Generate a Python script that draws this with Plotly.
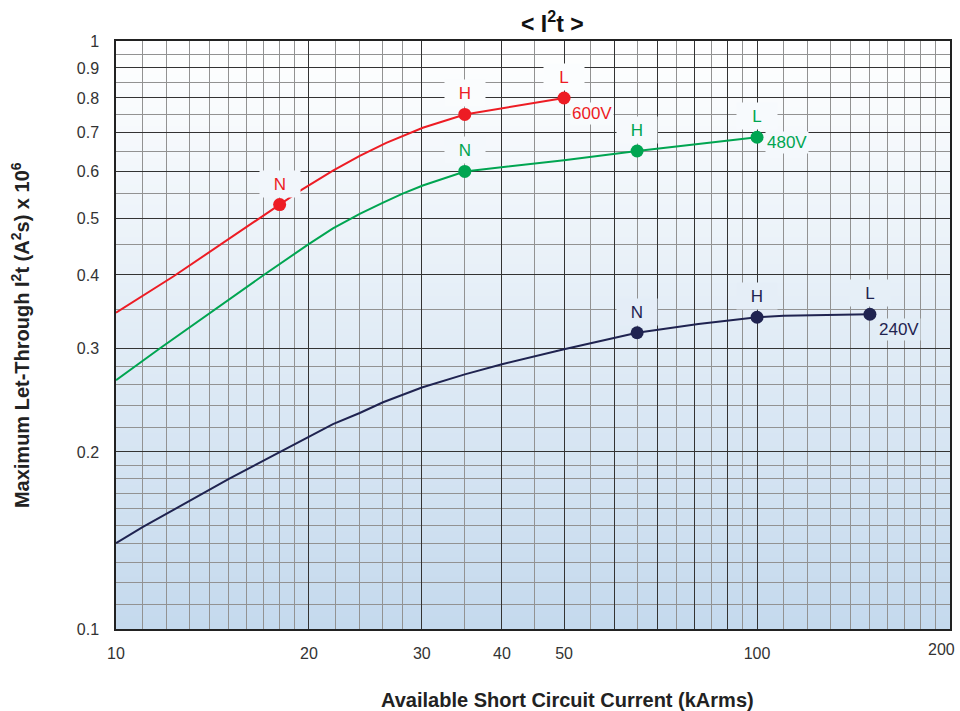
import math
import plotly.graph_objects as go

# ---------------- data ----------------
red_x = [10, 12.3, 18, 19.3, 21.8, 24, 26.4, 30.1, 35, 42, 50]
red_y = [0.345, 0.398, 0.527, 0.555, 0.602, 0.638, 0.671, 0.712, 0.75, 0.776, 0.80]
red_pts_x = [18, 35, 50]
red_pts_y = [0.527, 0.75, 0.80]

green_x = [10, 11.7, 17, 19.9, 21.8, 24, 26.1, 28, 30.1, 35, 50, 65, 100]
green_y = [0.265, 0.300, 0.400, 0.450, 0.480, 0.508, 0.531, 0.550, 0.568, 0.60, 0.627, 0.65, 0.686]
green_pts_x = [35, 65, 100]
green_pts_y = [0.60, 0.65, 0.686]

navy_x = [10, 11, 15, 18, 20, 21.8, 24, 26.1, 30, 35, 40, 50, 65, 81, 100, 110, 150]
navy_y = [0.140, 0.149, 0.180, 0.200, 0.212, 0.223, 0.233, 0.243, 0.2575, 0.271, 0.282, 0.299, 0.319, 0.330, 0.339, 0.341, 0.343]
navy_pts_x = [65, 100, 150]
navy_pts_y = [0.319, 0.339, 0.343]

point_labels = ["N", "H", "L"]
voltage_labels = ["600V", "480V", "240V"]

x_tickvals = [10, 20, 30, 40, 50, 60, 70, 80, 90, 100, 200]
x_ticktext = ["10", "20", "30", "40", "50", " ", " ", " ", " ", "100", " "]
x_last_label = "200"
x_minorvals = ([11, 12, 13, 14, 15, 16, 17, 18, 19, 22, 24, 26, 28,
                35, 45, 55, 65, 75, 85, 95,
                110, 120, 130, 140, 150, 160, 170, 180, 190])
y_tickvals = [0.1, 0.2, 0.3, 0.4, 0.5, 0.6, 0.7, 0.8, 0.9, 1]
y_ticktext = ["0.1", "0.2", "0.3", "0.4", "0.5", "0.6", "0.7", "0.8", "0.9", "1"]
y_minorvals = ([0.11, 0.12, 0.13, 0.14, 0.15, 0.16, 0.17, 0.18, 0.19,
                0.22, 0.24, 0.26, 0.28,
                0.35, 0.45, 0.55, 0.65, 0.75, 0.85, 0.95])

# ---------------- style ----------------
RED = "#ed1c24"
GREEN = "#00a551"
NAVY = "#1f2350"
FONT = "Liberation Sans, Arial, Helvetica, sans-serif"
TOP_C = (255, 255, 255)
BOT_C = (196, 217, 237)


def grad(t):
    # t: 0 bottom -> 1 top
    t = max(0.0, min(1.0, t))
    c = [round(BOT_C[k] + (TOP_C[k] - BOT_C[k]) * t) for k in range(3)]
    return "rgb(%d,%d,%d)" % tuple(c)


fig = go.Figure()

series = [
    (red_x, red_y, red_pts_x, red_pts_y, RED, voltage_labels[0], (6, -16)),
    (green_x, green_y, green_pts_x, green_pts_y, GREEN, voltage_labels[1], (8, -5)),
    (navy_x, navy_y, navy_pts_x, navy_pts_y, NAVY, voltage_labels[2], (7, -15)),
]

annotations = []
for xs, ys, px, py, col, vlab, (vxs, vys) in series:
    fig.add_trace(go.Scatter(x=xs, y=ys, mode="lines",
                             line=dict(color=col, width=2), hoverinfo="skip",
                             showlegend=False))
    fig.add_trace(go.Scatter(x=px, y=py, mode="markers",
                             marker=dict(color=col, size=13), showlegend=False))
    for xv, yv, lab in zip(px, py, point_labels):
        t = (math.log10(yv) + 1) + 0.034
        annotations.append(dict(x=math.log10(xv), y=math.log10(yv), xref="x", yref="y",
                                text=lab, showarrow=False, xanchor="center",
                                yanchor="bottom", yshift=7, width=40, height=26,
                                valign="middle", bgcolor=grad(t),
                                borderpad=0,
                                font=dict(family=FONT, size=17, color=col)))
    t = (math.log10(py[-1]) + 1) - 0.02
    annotations.append(dict(x=math.log10(px[-1]), y=math.log10(py[-1]), xref="x", yref="y",
                            text=vlab, showarrow=False, xanchor="left", yanchor="middle",
                            xshift=vxs, yshift=vys, bgcolor=grad(t), borderpad=1,
                            font=dict(family=FONT, size=17, color=col)))

# last x tick label (drawn slightly inside the right edge, as in the original)
annotations.append(dict(text=x_last_label, x=math.log10(x_tickvals[-1]), xref="x",
                        y=0, yref="paper", xanchor="center", yanchor="top",
                        xshift=-8, yshift=-10, showarrow=False,
                        font=dict(family=FONT, size=16, color="#333")))

# titles
annotations.append(dict(text="<b>&lt; I<sup>2</sup>t &gt;</b>", xref="paper", yref="paper",
                        x=0.523, y=1.032, xanchor="center", yanchor="middle",
                        showarrow=False, font=dict(family=FONT, size=23, color="#111")))
annotations.append(dict(text="<b>Available Short Circuit Current (kArms)</b>",
                        xref="paper", yref="paper", x=0.541, y=-0.12,
                        xanchor="center", yanchor="middle", showarrow=False,
                        font=dict(family=FONT, size=20, color="#222")))
annotations.append(dict(text="<b>Maximum Let-Through I<sup>2</sup>t (A<sup>2</sup>s) x 10<sup>6</sup></b>",
                        xref="paper", yref="paper", x=-0.115, y=0.5,
                        xanchor="center", yanchor="middle", textangle=-90,
                        showarrow=False,
                        font=dict(family=FONT, size=20, color="#222")))

# gradient background
shapes = []
N = 90
for i in range(N):
    shapes.append(dict(type="rect", xref="x domain", yref="y domain",
                       x0=0, x1=1, y0=i / N, y1=(i + 1) / N + 0.002,
                       fillcolor=grad((i + 0.5) / N), line=dict(width=0),
                       layer="below"))

axis_common = dict(
    type="log", showline=True, linecolor="#222", linewidth=1.5, mirror=True,
    showgrid=True, gridcolor="#333333", gridwidth=1,
    tickfont=dict(family=FONT, size=16, color="#333"),
    ticks="", zeroline=False,
)

fig.update_layout(
    width=960, height=711,
    margin=dict(l=116, r=8, t=41, b=82),
    paper_bgcolor="white", plot_bgcolor="white",
    shapes=shapes, annotations=annotations,
    showlegend=False,
)
fig.update_xaxes(**axis_common, range=[1 - 1e-5, math.log10(200) + 1e-5],
                 tickmode="array", tickvals=x_tickvals, ticktext=x_ticktext,
                 ticklabelstandoff=9,
                 minor=dict(tickmode="array", tickvals=x_minorvals, showgrid=True,
                            gridcolor="#929292", gridwidth=1.3, ticks=""))
fig.update_yaxes(**axis_common, range=[-1 - 1e-5, 1e-5],
                 tickmode="array", tickvals=y_tickvals, ticktext=y_ticktext,
                 ticklabelstandoff=12,
                 minor=dict(tickmode="array", tickvals=y_minorvals, showgrid=True,
                            gridcolor="#929292", gridwidth=1.3, ticks=""))

fig.write_html("out.html", config={"displayModeBar": False},
               post_script="document.body.style.margin='0px';document.body.style.overflow='hidden';")
